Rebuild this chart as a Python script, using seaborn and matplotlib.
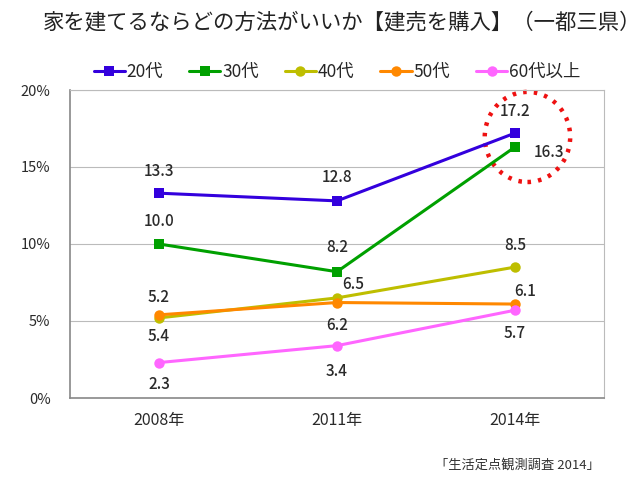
import pandas as pd
import matplotlib.pyplot as plt
import seaborn as sns
from matplotlib.patches import Ellipse

years = ['2008年', '2011年', '2014年']
groups = ['20代', '30代', '40代', '50代', '60代以上']
v20 = [13.3, 12.8, 17.2]
v30 = [10.0, 8.2, 16.3]
v40 = [5.2, 6.5, 8.5]
v50 = [5.4, 6.2, 6.1]
v60 = [2.3, 3.4, 5.7]
colors = ['#3300DD', '#00A000', '#BEBE00', '#FF8800', '#FF66FF']
markers = ['s', 's', 'o', 'o', 'o']

# label offsets in pixels (dx, dy) per point
offsets = {
    '20代': [(0, 22), (0, 23), (0, 22)],
    '30代': [(0, 22), (0, 24), (34, -6)],
    '40代': [(0, 20), (16, 13), (0, 22)],
    '50代': [(0, -22), (0, -23), (10, 13)],
    '60代以上': [(0, -22), (0, -26), (0, -23)],
}

rows = []
for g, vals in zip(groups, [v20, v30, v40, v50, v60]):
    for y, v in zip(years, vals):
        rows.append({'year': y, 'group': g, 'value': v})
df = pd.DataFrame(rows)

sns.set_style('white')
plt.rcParams['font.family'] = ['Noto Sans CJK JP', 'DejaVu Sans']

fig = plt.figure(figsize=(6.4, 4.82), dpi=100)
ax = fig.add_axes([70 / 640, 1 - 398 / 482, 534 / 640, 308 / 482])

sns.lineplot(data=df, x='year', y='value', hue='group', style='group',
             palette=colors, markers=markers, dashes=False, markersize=7.5,
             markeredgewidth=0, linewidth=2.2, sort=False, ax=ax)

for g, vals in zip(groups, [v20, v30, v40, v50, v60]):
    for i, v in enumerate(vals):
        dx, dy = offsets[g][i]
        ax.annotate(f'{v:.1f}', (i, v), xytext=(dx, dy), textcoords='offset pixels',
                    ha='center', va='center', fontsize=11, color='#2a2a2a',
                    fontweight='medium')

ax.add_patch(Ellipse((2.07, 16.95), 0.48, 5.85, fill=False, edgecolor='#EE1111',
                     linestyle=(0, (0.8, 1.6)), linewidth=3.2, clip_on=False))

ax.set_xlim(-0.5, 2.5)
ax.set_ylim(0, 20)
ax.set_yticks([0, 5, 10, 15, 20])
ax.set_yticklabels(['0%', '5%', '10%', '15%', '20%'])
ax.grid(axis='y', color='#BBBBBB', linewidth=0.8)
ax.set_xticks([0.5, 1.5], minor=True)
ax.tick_params(axis='x', which='major', length=0, pad=10, labelsize=11.5, labelcolor='#2a2a2a')
ax.tick_params(axis='x', which='minor', direction='in', length=4, color='#999999')
ax.tick_params(axis='y', length=0, pad=14, labelsize=10.5, labelcolor='#2a2a2a')
ax.set_xlabel('')
ax.set_ylabel('')
for s in ['left', 'bottom']:
    ax.spines[s].set_color('#888888')
    ax.spines[s].set_linewidth(1.2)
for s in ['top', 'right']:
    ax.spines[s].set_color('#BBBBBB')

handles, labels = ax.get_legend_handles_labels()
ax.legend(handles, labels, loc='center', bbox_to_anchor=(337 / 640, 1 - 72 / 482),
          bbox_transform=fig.transFigure, ncol=5, frameon=False, fontsize=12.5,
          handlelength=1.8, handletextpad=0.1, columnspacing=1.5)

fig.text(43 / 640, 1 - 22 / 482, '家を建てるならどの方法がいいか【建売を購入】（一都三県）',
         fontsize=15.4, ha='left', va='center', color='#222222')
fig.text(600 / 640, 1 - 465 / 482, '「生活定点観測調査 2014」', fontsize=9.5,
         ha='right', va='center', color='#333333')

fig.savefig('out.png', dpi=100)
